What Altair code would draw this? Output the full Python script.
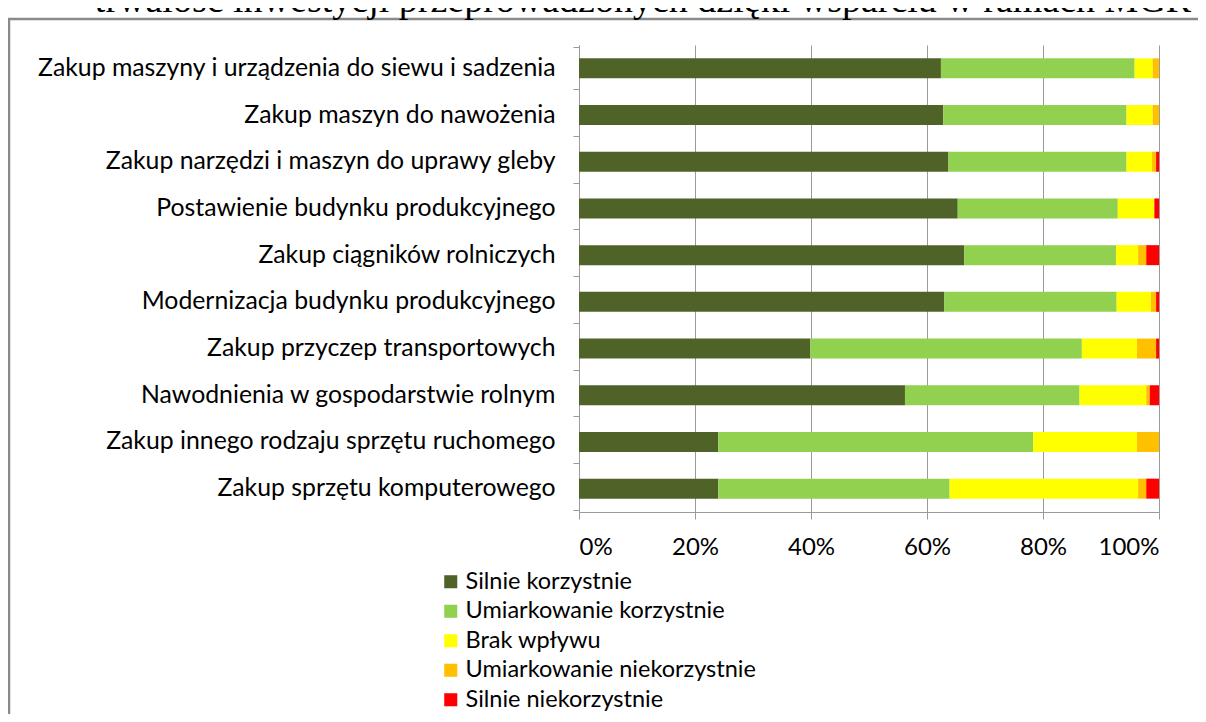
import altair as alt
import pandas as pd

categories = [
    "Zakup maszyny i urządzenia do siewu i sadzenia",
    "Zakup maszyn do nawożenia",
    "Zakup narzędzi i maszyn do uprawy gleby",
    "Postawienie budynku produkcyjnego",
    "Zakup ciągników rolniczych",
    "Modernizacja budynku produkcyjnego",
    "Zakup przyczep transportowych",
    "Nawodnienia w gospodarstwie rolnym",
    "Zakup innego rodzaju sprzętu ruchomego",
    "Zakup sprzętu komputerowego",
]
series = [
    "Silnie korzystnie",
    "Umiarkowanie korzystnie",
    "Brak wpływu",
    "Umiarkowanie niekorzystnie",
    "Silnie niekorzystnie",
]
colors = ["#4F6228", "#92D050", "#FFFF00", "#FFC000", "#FF0000"]

silnie_korzystnie = [62.4, 62.8, 63.7, 65.3, 66.4, 63.0, 39.9, 56.2, 24.0, 24.0]
umiarkowanie_korzystnie = [33.4, 31.6, 30.7, 27.6, 26.2, 29.7, 46.8, 30.1, 54.3, 39.9]
brak_wplywu = [3.1, 4.5, 4.4, 6.3, 3.8, 5.9, 9.5, 11.5, 17.9, 32.5]
umiarkowanie_niekorzystnie = [1.1, 1.1, 0.7, 0.0, 1.4, 0.9, 3.3, 0.6, 3.8, 1.4]
silnie_niekorzystnie = [0.0, 0.0, 0.5, 0.8, 2.2, 0.5, 0.5, 1.6, 0.0, 2.2]

title_text = "trwałość inwestycji przeprowadzonych dzięki wsparciu w ramach MGR"
x_ticks = [0, 0.2, 0.4, 0.6, 0.8, 1.0]

all_series = [silnie_korzystnie, umiarkowanie_korzystnie, brak_wplywu,
              umiarkowanie_niekorzystnie, silnie_niekorzystnie]
rows = []
for si, (name, vals) in enumerate(zip(series, all_series)):
    for cat, v in zip(categories, vals):
        rows.append({"kategoria": cat, "seria": name, "wartosc": v, "kolejnosc": si})
df = pd.DataFrame(rows)

FONT = "Lato"
GRAY = "#9a9a9a"

bars = alt.Chart(df).mark_bar(size=20).encode(
    y=alt.Y("kategoria:N", sort=categories, title=None,
            axis=alt.Axis(tickBand="extent", grid=False, domainColor=GRAY, tickColor=GRAY,
                          tickSize=6, labelPadding=18, labelLimit=700,
                          labelFont=FONT, labelFontSize=24.8, labelColor="#000000")),
    x=alt.X("wartosc:Q", stack="normalize", title=None,
            scale=alt.Scale(domain=[0, 1], nice=False),
            axis=alt.Axis(values=x_ticks, format=".0%", grid=True, gridColor=GRAY,
                          domainColor=GRAY, tickColor=GRAY, tickSize=7, labelPadding=16,
                          labelFont=FONT, labelFontSize=24, labelColor="#000000")),
    color=alt.Color("seria:N", sort=series,
                    scale=alt.Scale(domain=series, range=colors),
                    legend=alt.Legend(title=None, orient="none", legendX=-140, legendY=525,
                                      symbolType="square", symbolSize=170, symbolStrokeWidth=0,
                                      labelFont=FONT, labelFontSize=23.5, labelColor="#000000",
                                      labelLimit=600, rowPadding=4.5, labelOffset=3)),
    order=alt.Order("kolejnosc:Q"),
)

one = pd.DataFrame({"k": [0]})

frame = alt.Chart(one).mark_rect(filled=False, stroke="#8a8a8a", strokeWidth=2.5).encode(
    x=alt.value(-570), x2=alt.value(700), y=alt.value(-26), y2=alt.value(720)
)

title = alt.Chart(one).mark_text(font="Liberation Serif", fontSize=38, align="center",
                                 baseline="alphabetic", color="#000000").encode(
    x=alt.value(64), y=alt.value(-33), text=alt.value(title_text)
)

chart = alt.layer(frame, bars, title).properties(
    width=580, height=467,
    autosize=alt.AutoSizeParams(type="none"),
    padding={"left": 571, "top": 37, "right": 39, "bottom": 202},
).configure_view(stroke=None)

chart.save("out.html", embed_options={"renderer": "svg", "actions": False})
